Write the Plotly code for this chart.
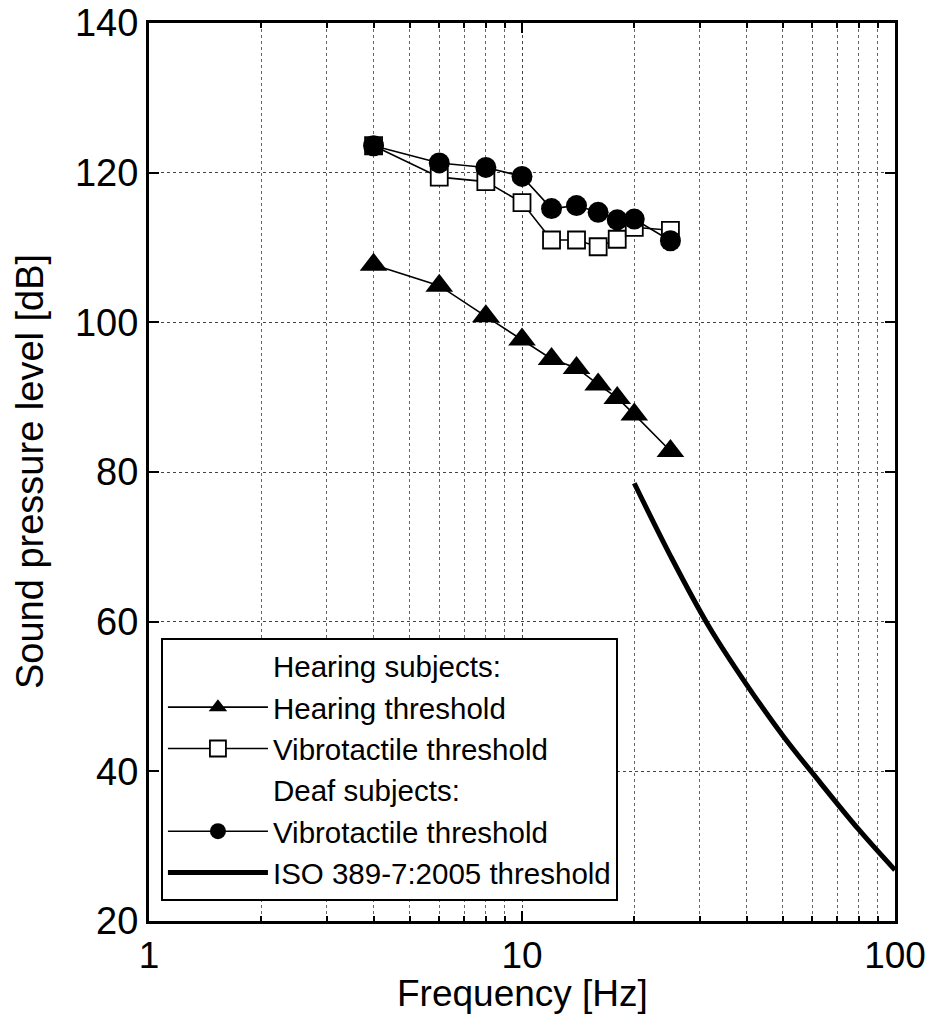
import plotly.graph_objects as go

freq = [4, 6, 8, 10, 12, 14, 16, 18, 20, 25]
hearing_threshold = [107.7, 104.9, 100.8, 97.7, 95.1, 93.9, 91.7, 89.9, 87.7, 82.8]
vibro_hearing = [123.6, 119.4, 118.8, 116.0, 111.0, 111.0, 110.1, 111.1, 112.7, 112.3]
vibro_deaf = [123.6, 121.3, 120.7, 119.5, 115.2, 115.6, 114.7, 113.7, 113.8, 110.9]

iso_freq = [20, 25, 31.5, 40, 50, 63, 80, 100]
iso_level = [78.5, 68.8, 59.6, 51.6, 44.8, 38.5, 32.2, 26.8]

x_ticks = [1, 10, 100]
x_minor = [2, 3, 4, 5, 6, 7, 8, 9, 20, 30, 40, 50, 60, 70, 80, 90]
y_ticks = [20, 40, 60, 80, 100, 120, 140]

x_title = "Frequency [Hz]"
y_title = "Sound pressure level [dB]"

FONT = "Liberation Sans, Arial, sans-serif"
fig = go.Figure()

fig.add_trace(go.Scatter(x=[None], y=[None], mode="lines", name="Hearing subjects:",
                         line=dict(width=0, color="rgba(0,0,0,0)")))
fig.add_trace(go.Scatter(x=freq, y=hearing_threshold, mode="lines+markers", name="Hearing threshold",
                         line=dict(color="black", width=1.6),
                         marker=dict(symbol="triangle-up", size=24, color="black")))
fig.add_trace(go.Scatter(x=freq, y=vibro_hearing, mode="lines+markers", name="Vibrotactile threshold",
                         line=dict(color="black", width=1.6),
                         marker=dict(symbol="square", size=17, color="white",
                                     line=dict(color="black", width=1.8))))
fig.add_trace(go.Scatter(x=[None], y=[None], mode="lines", name="Deaf subjects:",
                         line=dict(width=0, color="rgba(0,0,0,0)")))
fig.add_trace(go.Scatter(x=freq, y=vibro_deaf, mode="lines+markers", name="Vibrotactile threshold ",
                         line=dict(color="black", width=1.6),
                         marker=dict(symbol="circle", size=21, color="black")))
fig.add_trace(go.Scatter(x=iso_freq, y=iso_level, mode="lines", name="ISO 389-7:2005 threshold",
                         line=dict(color="black", width=5, shape="spline")))

fig.update_layout(
    width=936, height=1027,
    margin=dict(l=149, r=41, t=23, b=106, autoexpand=False),
    paper_bgcolor="white", plot_bgcolor="white",
    font=dict(family=FONT, size=38, color="black"),
    showlegend=True,
    legend=dict(x=0.016, y=0.315, xanchor="left", yanchor="top",
                bgcolor="white", bordercolor="black", borderwidth=2,
                font=dict(size=29.5), itemwidth=100, tracegroupgap=0),
    xaxis=dict(type="log", range=[0, 2], tickvals=x_ticks, ticktext=[str(v) for v in x_ticks],
               automargin=False,
               showline=True, linecolor="black", linewidth=3, mirror="ticks",
               ticks="inside", ticklen=10, tickwidth=2, tickcolor="black",
               showgrid=True, gridcolor="#444", griddash="dot", gridwidth=1,
               zeroline=False, tickfont=dict(size=37),
               minor=dict(tickvals=x_minor, ticks="inside", ticklen=5, tickwidth=1.5,
                          tickcolor="black", showgrid=True, gridcolor="#666",
                          griddash="dot", gridwidth=1)),
    yaxis=dict(range=[20, 140], tickvals=y_ticks, automargin=False,
               showline=True, linecolor="black", linewidth=3, mirror="ticks",
               ticks="inside", ticklen=10, tickwidth=2, tickcolor="black",
               showgrid=True, gridcolor="#444", griddash="dot", gridwidth=1,
               zeroline=False, tickfont=dict(size=38)),
    annotations=[
        dict(text=x_title, xref="paper", yref="paper", x=0.5, y=-0.0805,
             xanchor="center", yanchor="middle", showarrow=False, font=dict(size=37)),
        dict(text=y_title, xref="paper", yref="paper", x=-0.1595, y=0.5, textangle=-90,
             xanchor="center", yanchor="middle", showarrow=False, font=dict(size=38)),
    ],
)

fig.write_html("out.html")
